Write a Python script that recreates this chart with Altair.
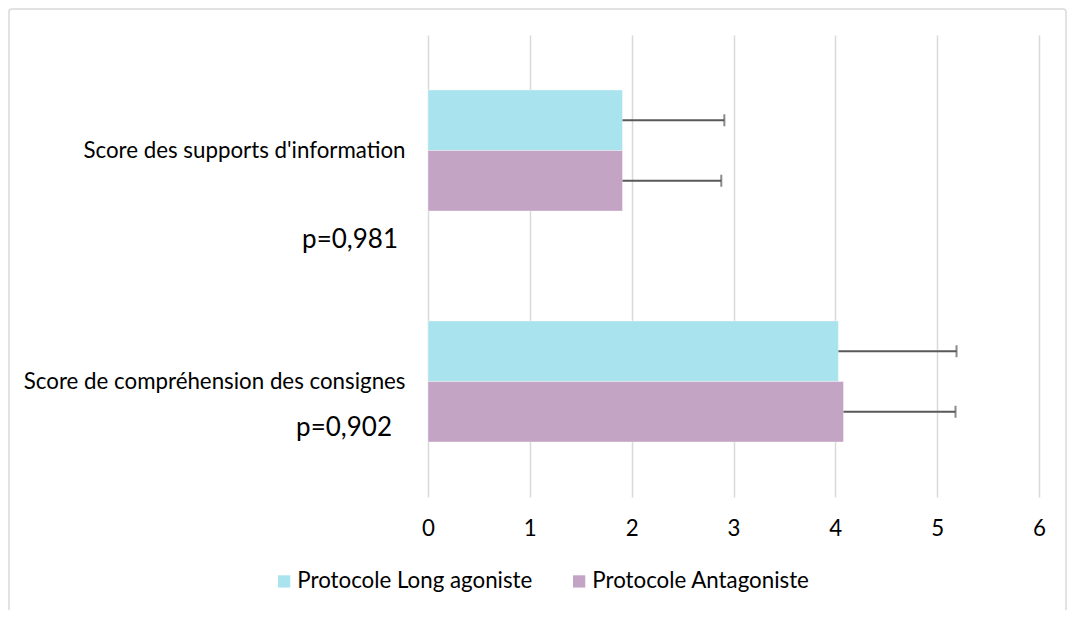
import altair as alt
import pandas as pd

categories = ["Score des supports d'information", "Score de compréhension des consignes"]
series = ["Protocole Long agoniste", "Protocole Antagoniste"]
long_vals = [1.91, 4.03]
antag_vals = [1.91, 4.08]
long_err = [1.00, 1.16]
antag_err = [0.97, 1.10]
p_labels = ["p=0,981", "p=0,902"]
x_ticks = [0, 1, 2, 3, 4, 5, 6]
colors = ["#A9E4EE", "#C4A4C4"]

rows = []
for i, c in enumerate(categories):
    rows.append({"cat": c, "series": series[0], "value": long_vals[i], "err": long_err[i]})
    rows.append({"cat": c, "series": series[1], "value": antag_vals[i], "err": antag_err[i]})
df = pd.DataFrame(rows)
df["hi"] = df["value"] + df["err"]

FONT = "Lato"
FS = 22.3
W, H = 611, 462

y_enc = alt.Y("cat:N", sort=categories, title=None,
              scale=alt.Scale(paddingInner=0.476, paddingOuter=0.238),
              axis=alt.Axis(domain=False, ticks=False, labelPadding=23, labelFontSize=FS,
                            labelFont=FONT, labelColor="#000000", labelLimit=420))
yoff = alt.YOffset("series:N", sort=series)
x_scale = alt.Scale(domain=[0, 6], nice=False)

base = alt.Chart(df)

bars = base.mark_bar(stroke="#ffffff", strokeWidth=0.6, strokeOpacity=0.6).encode(
    x=alt.X("value:Q", scale=x_scale, title=None,
            axis=alt.Axis(values=x_ticks, format="d", domain=False, ticks=False, grid=True,
                          gridColor="#D9D9D9", gridWidth=1.5, labelPadding=20,
                          labelFlush=False,
                          labelFontSize=FS, labelFont=FONT, labelColor="#000000")),
    y=y_enc,
    yOffset=yoff,
    color=alt.Color("series:N", sort=series,
                    scale=alt.Scale(domain=series, range=colors),
                    legend=alt.Legend(title=None, orient="none", direction="horizontal",
                                      legendX=-155, legendY=535,
                                      symbolType="square", symbolSize=150,
                                      symbolStrokeWidth=0, labelFontSize=FS,
                                      labelFont=FONT, labelColor="#000000",
                                      columnPadding=35, labelLimit=420, labelOffset=2)),
)

rules = base.mark_rule(color="#595959", strokeWidth=2).encode(
    x=alt.X("value:Q", scale=x_scale),
    x2="hi:Q",
    y=alt.Y("cat:N", sort=categories),
    yOffset=yoff,
)

caps = base.mark_tick(color="#595959", thickness=2, size=12, orient="vertical").encode(
    x=alt.X("hi:Q", scale=x_scale),
    y=alt.Y("cat:N", sort=categories),
    yOffset=yoff,
)

p1 = alt.Chart(pd.DataFrame({"t": [p_labels[0]]})).mark_text(
    align="right", baseline="middle", fontSize=26, font=FONT, color="#000000"
).encode(text="t:N", x=alt.value(-30), y=alt.value(205))

p2 = alt.Chart(pd.DataFrame({"t": [p_labels[1]]})).mark_text(
    align="right", baseline="middle", fontSize=26, font=FONT, color="#000000"
).encode(text="t:N", x=alt.value(-36), y=alt.value(393))

border = alt.Chart(pd.DataFrame({"a": [0]})).mark_rect(
    fill=None, stroke="#D9D9D9", strokeWidth=1.5, cornerRadius=3
).encode(x=alt.value(-419), x2=alt.value(638), y=alt.value(-26), y2=alt.value(600))

chart = alt.layer(border, bars, rules, caps, p1, p2).properties(
    width=W, height=H,
    padding={"left": 420, "top": 27, "right": 28, "bottom": 113},
    autosize=alt.AutoSizeParams(type="none"),
    background="#ffffff",
).configure_view(stroke=None)

chart.save("out.html", embed_options={"renderer": "svg", "actions": False})
